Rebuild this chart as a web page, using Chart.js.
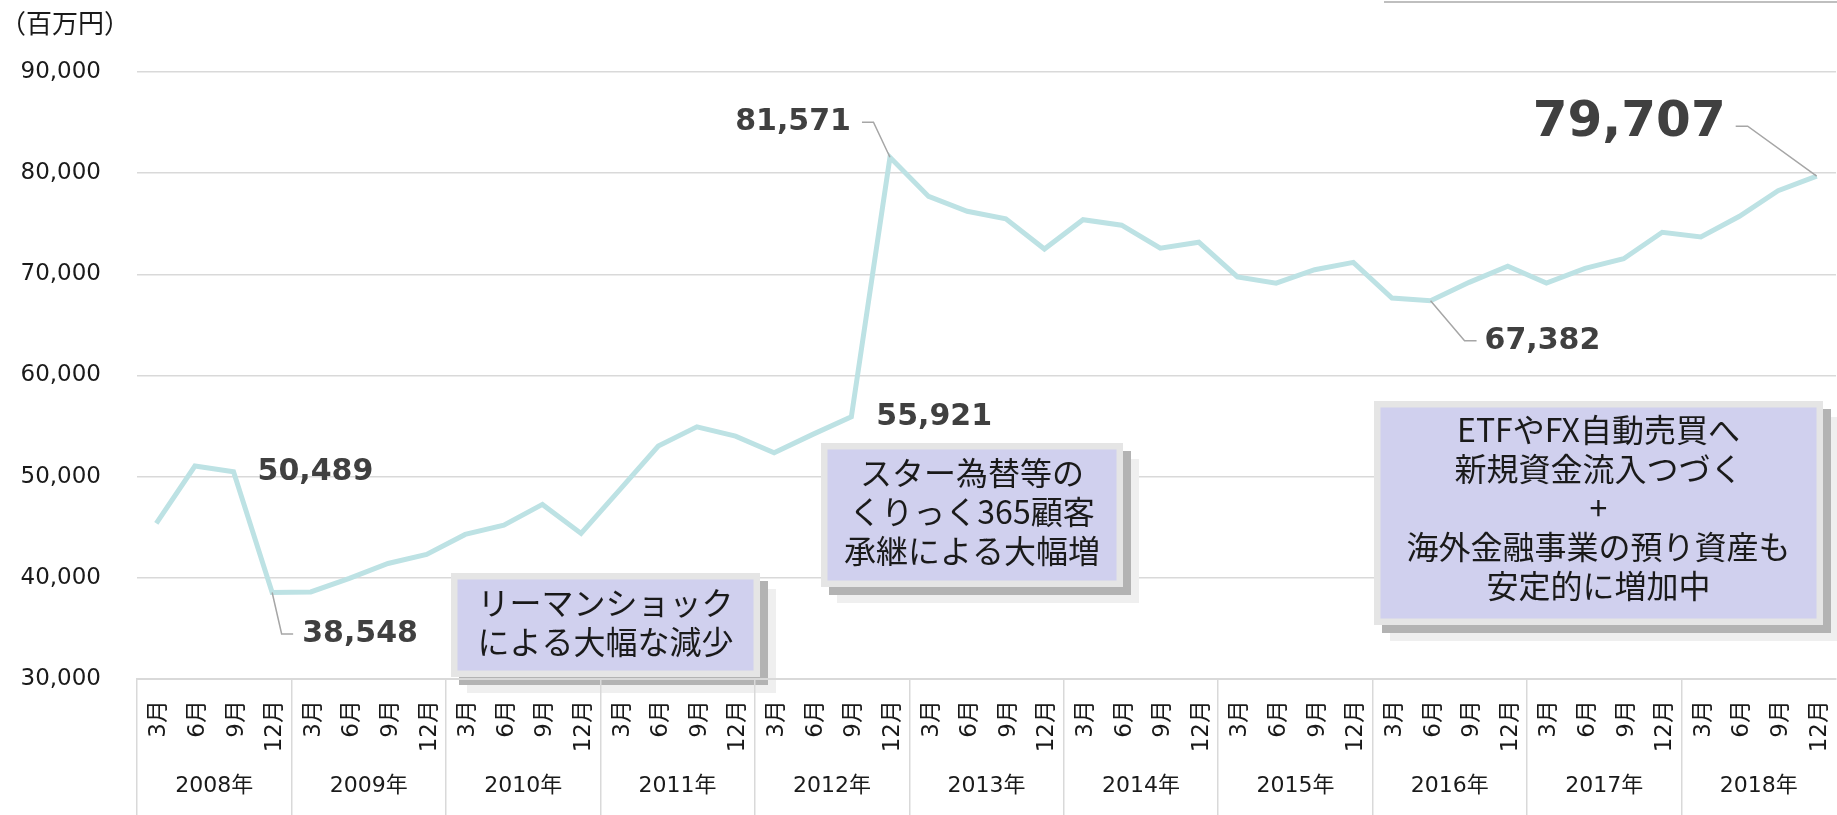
<!DOCTYPE html>
<html><head><meta charset="utf-8">
<script src="https://cdn.jsdelivr.net/npm/chart.js@4.4.1/dist/chart.umd.min.js"></script>
<style>html,body{margin:0;padding:0;background:#fff;}#wrap{position:relative;width:1837px;height:815px;}</style>
</head><body><div id="wrap"><canvas id="c"></canvas></div>
<script>
// ---- data ----
const yearLabels = ['2008年','2009年','2010年','2011年','2012年','2013年','2014年','2015年','2016年','2017年','2018年'];
const monthLabels = ['3月','6月','9月','12月'];
const depositValues = [
  45380, 51050, 50489, 38548,
  38610, 39950, 41420, 42310,
  44290, 45210, 47260, 44390,
  48700, 53030, 54930, 54010,
  52370, 54180, 55921, 81571,
  77700, 76235, 75480, 72500,
  75400, 74860, 72580, 73170,
  69750, 69130, 70460, 71180,
  67660, 67382, 69210, 70800,
  69130, 70590, 71540, 74160,
  73700, 75740, 78260, 79707
];
const yMin = 30000, yMax = 90000, yStep = 10000;
const unitLabel = '（百万円）';
const highlightIndices = [2, 3, 18, 19, 33, 43];
const noteLehman = ['リーマンショック', 'による大幅な減少'];
const noteStar = ['スター為替等の', 'くりっく365顧客', '承継による大幅増'];
const noteEtf = ['ETFやFX自動売買へ', '新規資金流入つづく', '+', '海外金融事業の預り資産も', '安定的に増加中'];

const periodLabels = yearLabels.flatMap(() => monthLabels);

// ---- styles ----
const NUM_FONT = '"DejaVu Sans", "Noto Sans CJK JP", sans-serif';
const JP_FONT = '"Noto Sans CJK JP", "DejaVu Sans", sans-serif';
const GRID = '#d9d9d9';

const labelLayout = {
  2:  {dx: 24,  dy: 0,   align: 'left',  size: 30},
  3:  {dx: 30,  dy: 42,  align: 'left',  size: 30, leader: [[9.5, 41.5], [21, 41.5]]},
  18: {dx: 25,  dy: 0,   align: 'left',  size: 30},
  19: {dx: -39, dy: -35, align: 'right', size: 30, leader: [[-16.5, -35], [-28, -35]]},
  33: {dx: 54,  dy: 40,  align: 'left',  size: 30, leader: [[34, 40], [46, 40]]},
  43: {dx: -91, dy: -53, align: 'right', size: 50, leader: [[-69, -50], [-81, -50]]}
};

const notes = [
  {x: 451,  y: 573, w: 309, h: 104, cy: 622, lh: 39,   lines: noteLehman},
  {x: 821,  y: 443, w: 302, h: 144, cy: 512, lh: 39,   lines: noteStar},
  {x: 1374, y: 401, w: 449, h: 224, cy: 508, lh: 39,   lines: noteEtf}
];

const overlay = {
  id: 'overlay',
  afterDatasetsDraw(chart) {
    const ctx = chart.ctx;
    const xs = chart.scales.x, ys = chart.scales.y;
    ctx.save();
    highlightIndices.forEach(i => {
      const L = labelLayout[i];
      const px = xs.getPixelForValue(i), py = ys.getPixelForValue(depositValues[i]);
      if (L.leader) {
        ctx.beginPath();
        ctx.strokeStyle = '#a6a6a6';
        ctx.lineWidth = 1.5;
        ctx.moveTo(px, py);
        L.leader.forEach(p => ctx.lineTo(px + p[0], py + p[1]));
        ctx.stroke();
      }
      ctx.fillStyle = '#404040';
      ctx.font = 'bold ' + L.size + 'px ' + NUM_FONT;
      ctx.textAlign = L.align;
      ctx.textBaseline = 'middle';
      ctx.fillText(depositValues[i].toLocaleString('en-US'), px + L.dx, py + L.dy);
    });
    notes.forEach(n => {
      ctx.fillStyle = '#efefef'; ctx.fillRect(n.x + 16, n.y + 16, n.w, n.h);
      ctx.fillStyle = '#b3b3b3'; ctx.fillRect(n.x + 8, n.y + 8, n.w, n.h);
      ctx.fillStyle = '#e5e5e5'; ctx.fillRect(n.x, n.y, n.w, n.h);
      ctx.fillStyle = '#d0d0ee'; ctx.fillRect(n.x + 6.5, n.y + 6.5, n.w - 13, n.h - 13);
      ctx.fillStyle = '#1a1a1a';
      ctx.font = '32px ' + JP_FONT;
      ctx.textAlign = 'center';
      ctx.textBaseline = 'middle';
      const cx = n.x + n.w / 2;
      const y0 = n.cy - (n.lines.length - 1) * n.lh / 2;
      n.lines.forEach((t, k) => ctx.fillText(t, cx, y0 + k * n.lh));
    });
    ctx.restore();
  },
  afterDraw(chart) {
    const ctx = chart.ctx;
    ctx.save();
    ctx.fillStyle = '#1a1a1a';
    ctx.font = '26px ' + JP_FONT;
    ctx.textAlign = 'left';
    ctx.textBaseline = 'middle';
    ctx.fillText(unitLabel, 0, 23);
    ctx.strokeStyle = '#bfbfbf';
    ctx.lineWidth = 2;
    ctx.beginPath();
    ctx.moveTo(1384, 2);
    ctx.lineTo(1837, 2);
    ctx.stroke();
    ctx.restore();
  }
};

new Chart(document.getElementById('c'), {
  type: 'line',
  data: {
    labels: periodLabels,
    datasets: [{
      data: depositValues,
      borderColor: '#bde2e4',
      borderWidth: 5,
      pointRadius: 0,
      tension: 0,
      fill: false,
      xAxisID: 'x',
      yAxisID: 'y'
    }]
  },
  options: {
    responsive: true,
    maintainAspectRatio: false,
    animation: false,
    layout: {padding: {top: 72, right: 1, bottom: 0, left: 0}},
    plugins: {legend: {display: false}, tooltip: {enabled: false}, title: {display: false}},
    scales: {
      y: {
        min: yMin, max: yMax,
        afterFit: s => { s.width = 137; },
        ticks: {
          stepSize: yStep,
          padding: 36,
          color: '#1a1a1a',
          font: {family: NUM_FONT, size: 23},
          callback: v => Number(v).toLocaleString('en-US')
        },
        grid: {color: GRID, lineWidth: 1.5, drawTicks: false},
        border: {display: false}
      },
      x: {
        type: 'category',
        position: 'bottom',
        weight: 0,
        offset: true,
        afterFit: s => { s.height = 80; },
        ticks: {
          autoSkip: false, minRotation: 90, maxRotation: 90,
          padding: -115,
          labelOffset: 3,
          color: '#1a1a1a',
          font: {family: NUM_FONT, size: 23}
        },
        grid: {
          offset: true, drawOnChartArea: false, drawTicks: true, tickLength: 136,
          color: ctx => (ctx.index % 4 === 0 ? GRID : 'rgba(0,0,0,0)'),
          lineWidth: 1.5, z: 1
        },
        border: {display: true, color: GRID, width: 2, z: 1}
      },
      x2: {
        type: 'category',
        position: 'bottom',
        weight: 1,
        labels: yearLabels,
        offset: true,
        afterFit: s => { s.height = 56; },
        ticks: {
          autoSkip: false, maxRotation: 0, minRotation: 0,
          padding: 6,
          color: '#1a1a1a',
          font: {family: NUM_FONT, size: 22}
        },
        grid: {display: false},
        border: {display: false}
      }
    }
  },
  plugins: [overlay]
});
</script>
</body></html>
